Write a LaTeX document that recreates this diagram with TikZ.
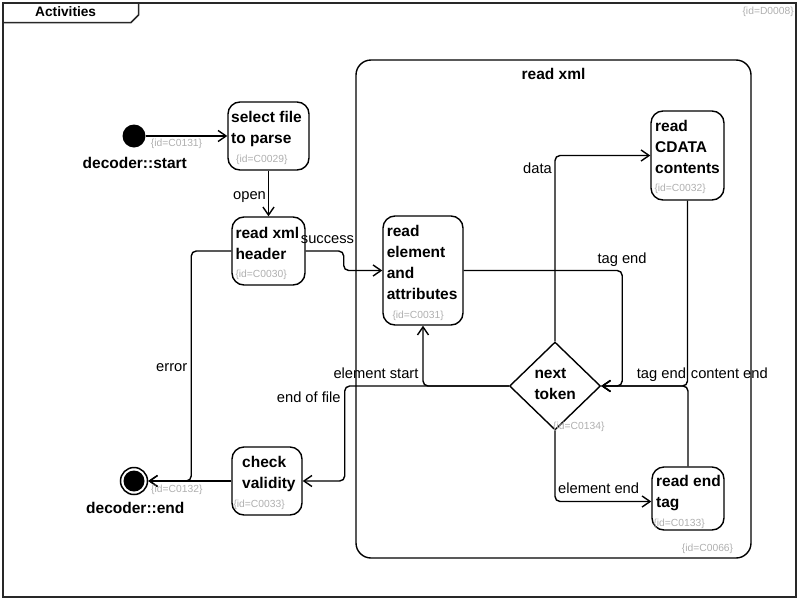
\documentclass[tikz,border=0pt]{standalone}
\usepackage{fontspec}
\setmainfont{Liberation Sans}
\usetikzlibrary{arrows.meta,calc,shapes.geometric}
\definecolor{idgray}{RGB}{175,175,175}
\definecolor{framegray}{RGB}{40,40,40}
\tikzset{
  act/.style={draw, line width=1.4pt, rounded corners=12pt, inner sep=0pt},
  acttxt/.style={anchor=base west, inner sep=0pt, font=\bfseries\fontsize{15.5}{21}\selectfont},
  idtxt/.style={anchor=base west, inner sep=0pt, text=idgray, font=\fontsize{10.3}{12}\selectfont},
  lbl/.style={anchor=base west, inner sep=0pt, font=\fontsize{14.7}{17}\selectfont},
  boldlbl/.style={anchor=base, inner sep=0pt, font=\bfseries\fontsize{15.5}{19}\selectfont},
  flow/.style={line width=1.4pt, rounded corners=5pt, -{Straight Barb[length=8pt,width=11pt]}},
}
\newcommand{\lines}[1]{\parbox[t]{100pt}{\raggedright #1}}
\begin{document}
\begin{tikzpicture}[x=1pt,y=-1pt]
\useasboundingbox (0,0) rectangle (800,600);

% diagram frame with its name tab
\draw[framegray, line width=1.8pt] (3,3) rectangle (796,597);
\draw[framegray, line width=1.5pt] (3,22.5) -- (131,22.5) -- (138.5,15) -- (138.5,3);
\node[anchor=base west, inner sep=0pt, font=\bfseries\fontsize{13.7}{16}\selectfont] (title) at (35,16) {Activities};
\node[idtxt, anchor=base east] (diagid) at (794,14) {\{id=D0008\}};

% composite activity
\node[draw, line width=1.4pt, rounded corners=15pt, minimum width=395pt, minimum height=498pt, inner sep=0pt] (rx) at (553.5,309) {};
\node[boldlbl] (rxtitle) at (553.5,79) {read xml};
\node[idtxt] (rxid) at (681.7,551.7) {\{id=C0066\}};

% initial and final nodes
\node[circle, fill, minimum size=23pt, inner sep=0pt] (start) at (134,136) {};
\node[boldlbl] (startlbl) at (134.8,168.3) {decoder::start};
\node[circle, draw, line width=1.5pt, minimum size=27pt, inner sep=0pt] (end) at (134,481) {};
\fill (end.center) circle[radius=10.5pt];
\node[boldlbl] (endlbl) at (135.3,513.3) {decoder::end};

% activities
\node[act, minimum width=81pt, minimum height=68pt] (sel) at (268.5,136) {};
\node[acttxt] (seltxt) at ($(sel.north west)+(3.7,21)$) {\lines{select file\\to parse}};
\node[idtxt] (selid) at ($(sel.north west)+(8.7,60.7)$) {\{id=C0029\}};

\node[act, minimum width=73pt, minimum height=68pt] (hdr) at (268.5,251) {};
\node[acttxt] (hdrtxt) at ($(hdr.north west)+(4,22)$) {\lines{read xml\\header}};
\node[idtxt] (hdrid) at ($(hdr.north west)+(4,61)$) {\{id=C0030\}};

\node[act, minimum width=80pt, minimum height=109pt] (elem) at (423,270.5) {};
\node[acttxt] (elemtxt) at ($(elem.north west)+(4.3,21)$) {\lines{read\\element\\and\\attributes}};
\node[idtxt] (elemid) at ($(elem.north west)+(10,103)$) {\{id=C0031\}};

\node[act, minimum width=73pt, minimum height=89pt] (cdata) at (687.5,155.5) {};
\node[acttxt] (cdatatxt) at ($(cdata.north west)+(4.7,20.7)$) {\lines{read\\CDATA\\contents}};
\node[idtxt] (cdataid) at ($(cdata.north west)+(4,81)$) {\{id=C0032\}};

\node[act, minimum width=72pt, minimum height=63pt] (endtag) at (688,498.5) {};
\node[acttxt] (endtagtxt) at ($(endtag.north west)+(4.7,20.3)$) {\lines{read end\\tag}};
\node[idtxt] (endtagid) at ($(endtag.north west)+(2,60)$) {\{id=C0133\}};

\node[act, minimum width=70pt, minimum height=68pt] (check) at (267,481) {};
\node[acttxt] (checktxt) at ($(check.north west)+(10.7,21)$) {\lines{check\\validity}};
\node[idtxt] (checkid) at ($(check.north west)+(2,61)$) {\{id=C0033\}};

% decision
\node[diamond, draw, line width=1.4pt, minimum width=91pt, minimum height=88pt, inner sep=0pt] (dia) at (555,386) {};
\node[acttxt] (diatxt) at ($(dia.center)+(-20.7,-7.7)$) {\lines{next\\token}};
\node[idtxt] (diaid) at ($(dia.center)+(-2,43)$) {\{id=C0134\}};

% control flows
\draw[flow] (start) -- (sel.west);
\node[idtxt] (f131) at (150.7,146) {\{id=C0131\}};

\draw[flow] (sel.south) -- (hdr.north);
\node[lbl] (fopen) at (233,199) {open};

\draw[flow] (hdr.east) -- ++(38,0) |- (elem.west);
\node[lbl] (fsucc) at (300.7,243.3) {success};

\draw[flow] (hdr.west) -| ([xshift=43pt]end.east) -- (end.east);
\node[lbl] (ferr) at (156,371.7) {error};

\draw[flow] (elem.east) -| ([xshift=21pt]dia.east) -- (dia.east);
\node[lbl] (ftag1) at (597.3,263) {tag end};

\draw[flow] (dia.north) |- (cdata.west);
\node[lbl] (fdata) at (523,173.3) {data};

\draw[flow] (cdata.south) |- (dia.east);
\node[lbl] (fcont) at (690.7,378.3) {content end};

\draw[flow] (endtag.north) |- (dia.east);
\node[lbl] (ftag2) at (636.7,378.3) {tag end};

\draw[flow] (dia.south) |- ([yshift=-3pt]endtag.west);
\node[lbl] (felend) at (558,493) {element end};

\draw[flow] (dia.west) -| (elem.south);
\node[lbl] (felstart) at (333.3,378.3) {element start};

\draw[flow] (dia.west) -| ([xshift=42pt]check.east) -- (check.east);
\node[lbl] (feof) at (276.7,402.7) {end of file};

\draw[flow] (check.west) -- (end.east);
\node[idtxt] (f132) at (151,492.7) {\{id=C0132\}};
\end{tikzpicture}
\end{document}
